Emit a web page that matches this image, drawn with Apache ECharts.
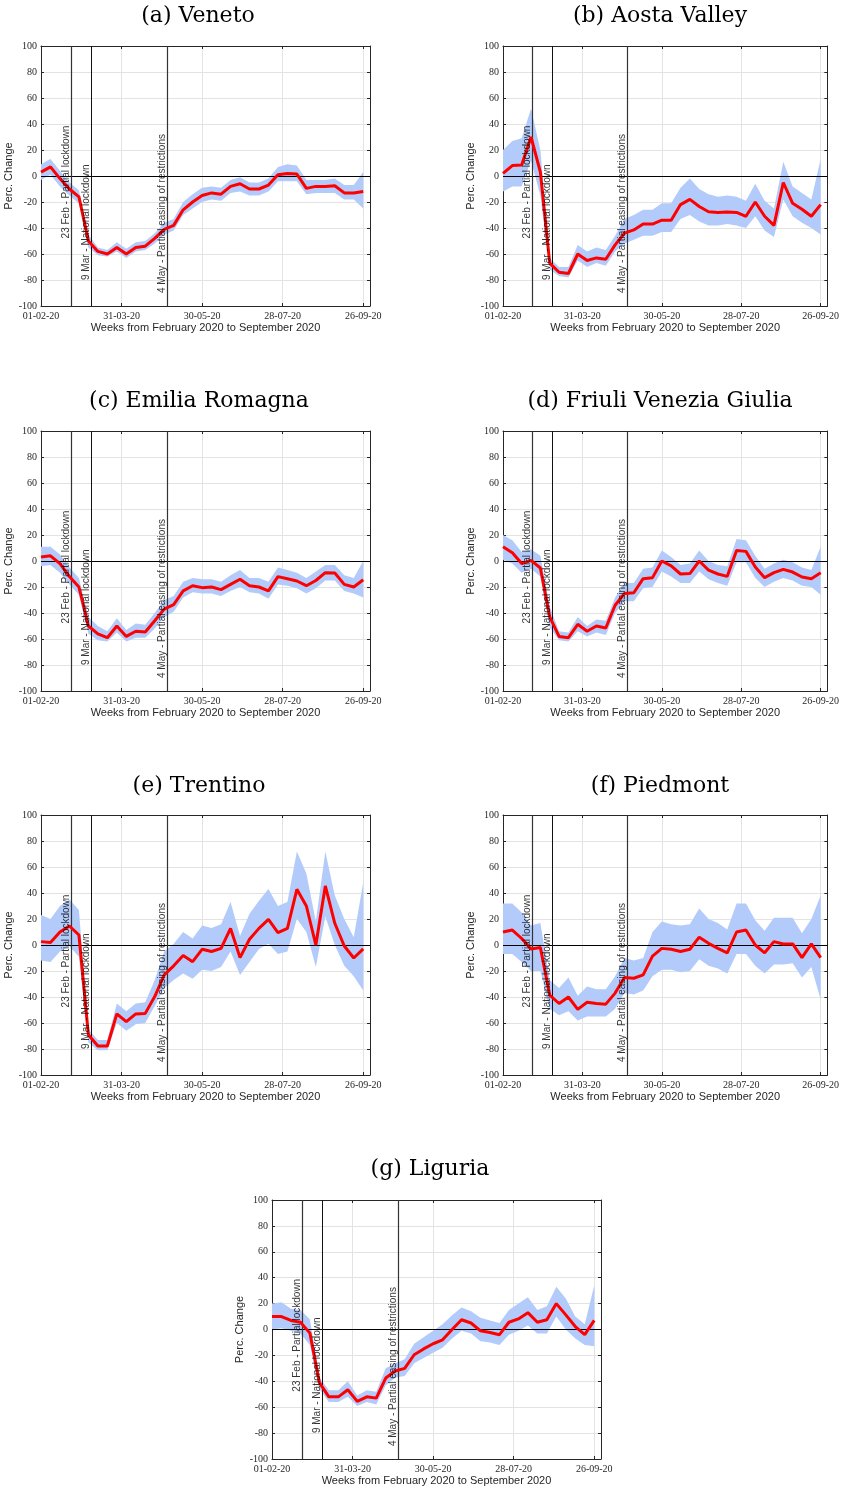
<!DOCTYPE html>
<html>
<head>
<meta charset="utf-8">
<title>Weekly percentage change by region</title>
<script src="https://cdn.jsdelivr.net/npm/echarts@6/dist/echarts.min.js"></script>
</head>
<body style="margin:0">
<div id="main" style="width:842px;height:1493px;"></div>
<script type="text/javascript">

// weeks from 01-02-20 to 26-09-20
var startDate = '2020-02-01';
var nWeeks = 35;
var tickDates = ['2020-02-01', '2020-03-31', '2020-05-30', '2020-07-28', '2020-09-26'];
var tickLabels = ['01-02-20', '31-03-20', '30-05-20', '28-07-20', '26-09-20'];
var eventDates = ['2020-02-23', '2020-03-09', '2020-05-04'];
var eventLabels = ['23 Feb - Partial lockdown', '9 Mar - National lockdown', '4 May - Partial easing of restrictions'];
var eventLabelY = [-48, -80, -90];

var titles = ['(a) Veneto', '(b) Aosta Valley', '(c) Emilia Romagna', '(d) Friuli Venezia Giulia',
              '(e) Trentino', '(f) Piedmont', '(g) Liguria'];

var venetoMean  = [3,7,-2,-10,-16,-50,-58,-60,-55,-60,-55,-54,-48,-41,-38,-26,-20,-15,-13,-14,-8,-6,-10,-10,-7,1,2,1.5,-9.5,-8,-8,-7.5,-13,-13,-12];
var venetoUpper = [9,13,4,-5,-11,-45,-55,-57,-51,-56,-51,-50,-44,-36,-33,-20,-14,-9,-8,-9,-3,-1,-5,-5,-2,7,9,8,-3,-3,-3,-2,-7,-7,3];
var venetoLower = [-3,1,-8,-15,-21,-55,-61,-62,-58,-63,-58,-57,-52,-45,-42,-30,-25,-20,-18,-19,-13,-12,-15,-15,-12,-4,-4,-4,-14,-13,-13,-13,-18,-18,-25];

var aostaMean  = [2,8,8.5,30,3,-67,-74,-75,-60,-65,-63,-64,-53,-44,-41.5,-37,-37,-34,-34,-22,-18,-23.5,-27.5,-28,-27.7,-28,-31,-20,-31,-38,-5,-21,-25.6,-31,-22];
var aostaUpper = [20,27,29,52,20,-63,-70,-70,-53,-58,-55,-57,-46,-33,-30,-26,-26,-21,-21,-9,-2,-10,-14,-16,-15,-16,-19,-6,-19,-25,11,-8,-13,-18,13];
var aostaLower = [-12,-8,-8,12,-15,-72,-77,-78,-65,-70,-67,-69,-58,-52,-49,-46,-46,-43,-43,-33,-30,-35,-38,-38,-37,-38,-40,-31,-42,-47,-18,-31,-36,-40,-45];

var emiliaMean  = [3,4,-2,-12,-20,-50,-56,-59,-50,-58,-54,-54.6,-46,-37,-33.6,-23,-19,-20.5,-20,-22,-18,-14,-19,-20,-23,-12,-13.6,-15.4,-19,-15,-9,-9.2,-18,-20,-14.4];
var emiliaUpper = [11,11,5,-5,-13,-43,-50,-54,-44,-53,-48,-49,-40,-30,-27,-16,-13,-14,-14,-16,-11,-7,-13,-13,-16,-5,-7,-9,-13,-8,-3,-3,-11,-13,0];
var emiliaLower = [-4,-3,-9,-18,-26,-56,-61,-62,-55,-62,-59,-59,-52,-43,-39,-28,-24,-25,-25,-27,-23,-20,-24,-25,-29,-18,-19,-21,-25,-21,-15,-15,-23,-25,-28];

var friuliMean  = [11,6.4,-2,0.5,-5.4,-43,-58,-59,-48.7,-54,-50,-51.5,-34,-25,-24.4,-13.6,-12.8,0,-3.8,-10,-9.7,0,-7,-10,-11.8,8,7.4,-4.6,-12.8,-9,-6.4,-8.5,-12.3,-13.6,-9];
var friuliUpper = [20,16,7,9,4,-35,-54,-55,-43,-50,-45,-46,-28,-17,-17,-6,-5,8,3,-3,-2,8,0,-3,-4,17,16,4,-6,-2,1,-1,-5,-7,11];
var friuliLower = [1,-2,-9,-6,-12,-51,-61,-62,-54,-58,-55,-57,-40,-31,-31,-21,-20,-8,-12,-17,-17,-8,-14,-17,-19,-1,-1,-13,-20,-16,-13,-15,-19,-20,-26];

var trentinoMean  = [2.6,2,10,14.6,7.7,-69,-77.7,-77.7,-53,-59,-53,-52.6,-39.7,-23,-16,-8,-12.8,-3.3,-5,-2.6,12.8,-9.7,4.4,12.8,19.7,9.5,12.8,42.8,30,0,45.4,16.7,-0.8,-10,-3];
var trentinoUpper = [23,20,30,35,27,-65,-73,-73,-45,-51,-45,-44,-27,-5,1,10,5,15,13,16,33,7,24,34,43,30,33,72,55,18,72,38,20,6,48];
var trentinoLower = [-12,-13,-5,-1,-9,-75,-81,-81,-60,-66,-61,-60,-47,-33,-27,-22,-26,-19,-20,-17,-5,-23,-13,-3,1,-7,-5,20,10,-17,22,0,-16,-24,-35];

var piedmontMean  = [10,11.5,5,-3,-2,-38.5,-45,-40,-49.5,-44,-45,-45.5,-37,-25,-25.6,-23,-8.5,-2.6,-3.3,-5,-3.3,6,1.3,-2.6,-6,10,11.5,0,-6,2.6,0.8,0.8,-9.7,0.8,-9.7];
var piedmontUpper = [32,32,25,15,17,-27,-33,-25,-39,-32,-34,-34,-24,-10,-12,-10,10,18,16,15,16,28,20,17,12,32,32,19,11,21,21,21,9,20,38];
var piedmontLower = [-7,-7,-13,-20,-20,-49,-54,-51,-58,-55,-55,-55,-49,-37,-38,-35,-24,-19,-19,-21,-20,-11,-16,-18,-22,-7,-7,-16,-22,-15,-15,-14,-25,-17,-42];

var liguriaMean  = [10,10,7,5.6,-2.8,-41,-52,-52,-46.5,-55.5,-52,-53,-37.5,-32,-30,-19.5,-15,-11,-8,0,7.5,5,-1,-2.3,-4,5.6,8.2,13,5.6,7.5,20,11.3,2.3,-4,7];
var liguriaUpper = [20,21,16,15,8,-37,-47,-47,-40,-51,-47,-48,-30,-26,-23,-11,-6,-1,4,11,17,14,9,7,5,15,20,25,15,18,33,24,10,4,34];
var liguriaLower = [0,1,-1,-3,-12,-46,-56,-56,-52,-59,-56,-58,-43,-37,-36,-26,-22,-18,-14,-7,-1,-3,-9,-10,-12,-4,-1,3,-3,-3,10,0,-7,-12,-13];

var means  = [venetoMean, aostaMean, emiliaMean, friuliMean, trentinoMean, piedmontMean, liguriaMean];
var uppers = [venetoUpper, aostaUpper, emiliaUpper, friuliUpper, trentinoUpper, piedmontUpper, liguriaUpper];
var lowers = [venetoLower, aostaLower, emiliaLower, friuliLower, trentinoLower, piedmontLower, liguriaLower];

// panel layout
var grids = [
    {left: 41,  top: 46,   width: 329, height: 260},
    {left: 503, top: 46,   width: 330, height: 260},
    {left: 41,  top: 431,  width: 329, height: 260},
    {left: 503, top: 431,  width: 330, height: 260},
    {left: 41,  top: 815,  width: 329, height: 260},
    {left: 503, top: 815,  width: 330, height: 260},
    {left: 272, top: 1200, width: 329, height: 259}
];
var titlePos = [[198, 16], [660, 16], [199, 401], [660, 401], [199, 786], [660, 786], [430, 1169]];

function dayOf(s) {
    return (Date.parse(s) - Date.parse(startDate)) / 86400000;
}
var xs = [];
for (var i = 0; i < nWeeks; i++) xs.push(i * 7);
var tickDays = tickDates.map(dayOf);
var eventDays = eventDates.map(dayOf);

var axisColor = '#262626';
var xAxes = [], yAxes = [], series = [], graphics = [];

grids.forEach(function (g, k) {
    xAxes.push({
        gridIndex: k, type: 'value', min: 0, max: 243, interval: 59.5,
        axisLine: {show: true, onZero: false, lineStyle: {color: axisColor}},
        axisTick: {inside: true, length: 3, lineStyle: {color: axisColor}},
        axisLabel: {
            margin: 5, color: axisColor, fontFamily: 'Liberation Serif', fontSize: 10,
            formatter: function (v) {
                for (var j = 0; j < tickDays.length; j++) {
                    if (Math.abs(tickDays[j] - v) < 1) return tickLabels[j];
                }
                return '';
            }
        },
        splitLine: {show: true, lineStyle: {color: '#e3e3e3'}},
        name: 'Weeks from February 2020 to September 2020',
        nameLocation: 'middle', nameGap: 16,
        nameTextStyle: {fontFamily: 'Liberation Sans', fontSize: 11, color: axisColor}
    });
    xAxes.push({
        gridIndex: k, type: 'value', min: 0, max: 243, interval: 59.5, position: 'top',
        axisLine: {show: true, onZero: false, lineStyle: {color: axisColor}},
        axisTick: {inside: true, length: 3, lineStyle: {color: axisColor}},
        axisLabel: {show: false}, splitLine: {show: false}
    });
    yAxes.push({
        gridIndex: k, type: 'value', min: -100, max: 100, interval: 20,
        axisLine: {show: true, onZero: false, lineStyle: {color: axisColor}},
        axisTick: {inside: true, length: 3, lineStyle: {color: axisColor}},
        axisLabel: {margin: 4, color: axisColor, fontFamily: 'Liberation Serif', fontSize: 10},
        splitLine: {show: true, lineStyle: {color: '#e3e3e3'}},
        name: 'Perc. Change', nameLocation: 'middle', nameGap: 27, nameRotate: 90,
        nameTextStyle: {fontFamily: 'Liberation Sans', fontSize: 11, color: axisColor}
    });
    yAxes.push({
        gridIndex: k, type: 'value', min: -100, max: 100, interval: 20, position: 'right',
        axisLine: {show: true, onZero: false, lineStyle: {color: axisColor}},
        axisTick: {inside: true, length: 3, lineStyle: {color: axisColor}},
        axisLabel: {show: false}, splitLine: {show: false}
    });

    var lo = lowers[k], up = uppers[k], mn = means[k];
    // confidence band drawn as one polygon through the axis scales
    series.push({
        type: 'custom', xAxisIndex: 2 * k, yAxisIndex: 2 * k, silent: true, z: 1,
        encode: {x: 0, y: [1, 2]},
        data: xs.map(function (x, i) { return [x, lo[i], up[i]]; }),
        renderItem: function (params, api) {
            if (params.dataIndex !== 0) return;
            var pts = [];
            for (var i = 0; i < xs.length; i++) pts.push(api.coord([xs[i], up[i]]));
            for (var i = xs.length - 1; i >= 0; i--) pts.push(api.coord([xs[i], lo[i]]));
            return {type: 'polygon', shape: {points: pts}, style: {fill: '#b3cbfa'}};
        }
    });
    // reference lines
    series.push({
        type: 'line', xAxisIndex: 2 * k, yAxisIndex: 2 * k, symbol: 'none', silent: true, z: 2,
        lineStyle: {opacity: 0},
        data: xs.map(function (x, i) { return [x, mn[i]]; }),
        markLine: {
            silent: true, symbol: 'none', animation: false, label: {show: false},
            data: [
                {yAxis: 0, lineStyle: {color: '#000', width: 1, type: 'solid'}},
                {xAxis: eventDays[0], lineStyle: {color: '#333', width: 1.2, type: 'solid'}},
                {xAxis: eventDays[1], lineStyle: {color: '#111', width: 1, type: 'solid'}},
                {xAxis: eventDays[2], lineStyle: {color: '#333', width: 1.2, type: 'solid'}}
            ]
        }
    });
    series.push({
        type: 'line', xAxisIndex: 2 * k, yAxisIndex: 2 * k, symbol: 'none', z: 6,
        lineStyle: {color: '#ff0000', width: 3},
        data: xs.map(function (x, i) { return [x, mn[i]]; })
    });
    series.push({
        type: 'scatter', xAxisIndex: 2 * k, yAxisIndex: 2 * k, symbolSize: 1, silent: true, z: 7,
        itemStyle: {color: 'rgba(0,0,0,0)'},
        label: {
            show: true, formatter: '{b}', rotate: 90, position: 'inside',
            align: 'left', verticalAlign: 'bottom',
            color: '#000', fontFamily: 'Liberation Sans', fontSize: 10
        },
        data: eventDays.map(function (d, j) { return {value: [d, eventLabelY[j]], name: eventLabels[j]}; })
    });

    graphics.push({
        type: 'text', x: titlePos[k][0], y: titlePos[k][1],
        style: {text: titles[k], font: '22px "DejaVu Serif"', fill: '#000', textAlign: 'center', textVerticalAlign: 'middle'}
    });
});

var chart = echarts.init(document.getElementById('main'));
chart.setOption({
    animation: false,
    backgroundColor: '#fff',
    grid: grids,
    xAxis: xAxes,
    yAxis: yAxes,
    series: series,
    graphic: graphics
});
</script>
</body>
</html>
